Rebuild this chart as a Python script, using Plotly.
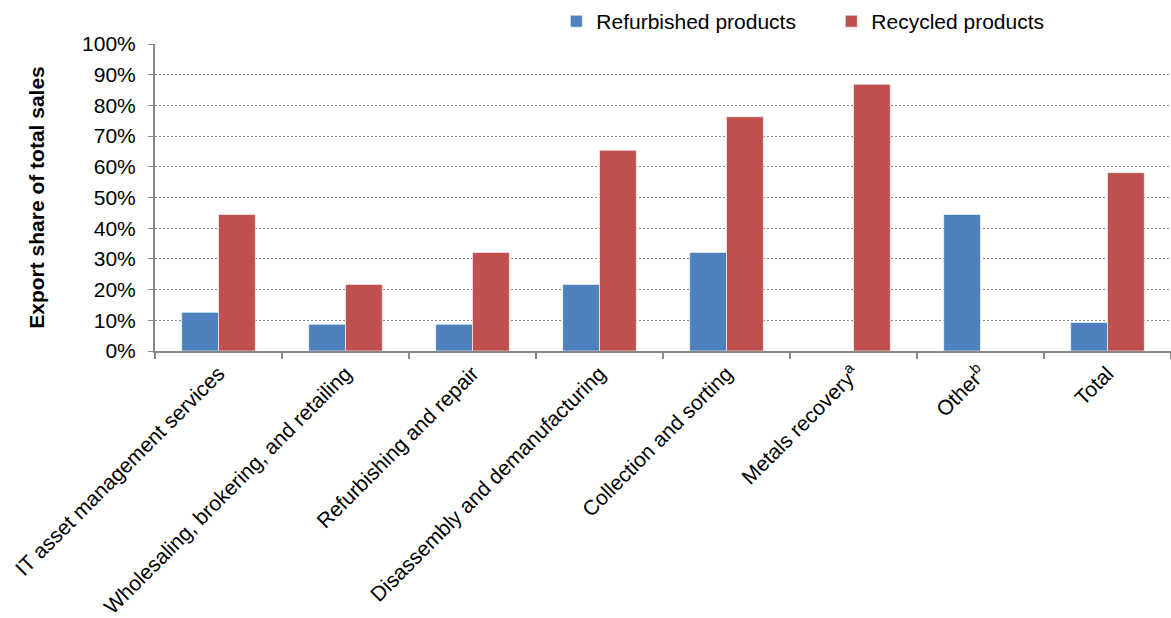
import plotly.graph_objects as go

categories = [
    "IT asset management services",
    "Wholesaling, brokering, and retailing",
    "Refurbishing and repair",
    "Disassembly and demanufacturing",
    "Collection and sorting",
    "Metals recovery<sup>a</sup>",
    "Other<sup>b</sup>",
    "Total",
]
refurbished = [0.126, 0.087, 0.087, 0.217, 0.321, None, 0.445, 0.093]
recycled = [0.445, 0.217, 0.321, 0.654, 0.763, 0.869, None, 0.581]
y_ticks = [0, 0.1, 0.2, 0.3, 0.4, 0.5, 0.6, 0.7, 0.8, 0.9, 1.0]

FONT = "Liberation Sans, Arial, sans-serif"

fig = go.Figure()
fig.add_trace(go.Bar(
    name="Refurbished products", x=categories, y=refurbished,
    marker=dict(color="#4F81BD", line=dict(color="rgba(255,255,255,0.6)", width=1)),
))
fig.add_trace(go.Bar(
    name="Recycled products", x=categories, y=recycled,
    marker=dict(color="#C0504D", line=dict(color="rgba(255,255,255,0.6)", width=1)),
))

fig.update_layout(
    width=1171, height=618,
    margin=dict(l=155, r=0, t=44, b=267, autoexpand=False),
    paper_bgcolor="white", plot_bgcolor="white",
    barmode="group", bargap=0.42, bargroupgap=0,
    font=dict(family=FONT, size=21, color="black"),
    legend=dict(
        orientation="h", x=0.395, xanchor="left", y=1.14, yanchor="top",
        font=dict(size=21), entrywidth=230, entrywidthmode="pixels",
        itemwidth=30, bgcolor="rgba(0,0,0,0)",
    ),
    xaxis=dict(
        tickangle=-45, tickson="boundaries", ticks="outside", ticklen=6,
        tickcolor="#888888", tickwidth=2,
        showline=True, linecolor="#888888", linewidth=2,
        showgrid=False, automargin=False, tickfont=dict(size=21),
    ),
    yaxis=dict(
        range=[0, 1.0], tickvals=y_ticks, tickformat=".0%",
        ticks="outside", ticklen=5, tickcolor="#888888", tickwidth=1,
        ticklabelstandoff=8,
        showline=True, linecolor="#888888", linewidth=2,
        showgrid=True, gridcolor="#8c8c8c", gridwidth=1, griddash="2px,2px",
        zeroline=False, automargin=False, tickfont=dict(size=21),
        title=dict(text="<b>Export share of total sales</b>", font=dict(size=21), standoff=32),
    ),
)

fig.write_html(
    "out.html",
    config={"displayModeBar": False},
    post_script="document.body.style.margin='0';document.body.style.overflow='hidden';",
)
